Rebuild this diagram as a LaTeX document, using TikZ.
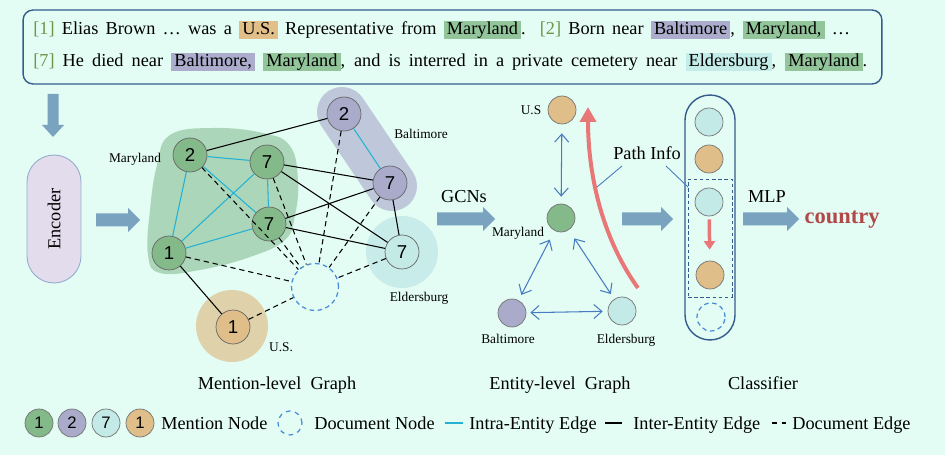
\documentclass[tikz,border=0pt]{standalone}
\usepackage{fontspec}
\setmainfont{Liberation Serif}
\newfontfamily\numfont{Liberation Sans}
\usetikzlibrary{arrows.meta}
\definecolor{bgmint}{RGB}{227,252,244}
\definecolor{boxblue}{RGB}{52,92,140}
\definecolor{arrowblue}{RGB}{122,163,191}
\definecolor{encfill}{RGB}{226,220,236}
\definecolor{encdraw}{RGB}{150,172,205}
\definecolor{mdgreen}{RGB}{132,185,138}
\definecolor{blpurple}{RGB}{170,171,202}
\definecolor{elcyan}{RGB}{196,234,232}
\definecolor{usorange}{RGB}{224,190,138}
\definecolor{hlgreen}{RGB}{146,197,154}
\definecolor{hlpurple}{RGB}{172,173,204}
\definecolor{hlcyan}{RGB}{196,236,232}
\definecolor{hlorange}{RGB}{226,190,136}
\definecolor{blobgreen}{RGB}{172,214,186}
\definecolor{blobpurple}{RGB}{190,200,218}
\definecolor{blobcyan}{RGB}{200,236,234}
\definecolor{blobtan}{RGB}{223,210,170}
\definecolor{intracyan}{RGB}{35,178,210}
\definecolor{docblue}{RGB}{70,140,215}
\definecolor{linkblue}{RGB}{72,124,192}
\definecolor{pathred}{RGB}{232,120,120}
\definecolor{countryred}{RGB}{178,72,72}
\definecolor{refgreen}{RGB}{108,150,72}
\def\hlword#1#2{{\setlength{\fboxsep}{0pt}\colorbox{#1}{\rule[-2.3pt]{0pt}{10.4pt}\hspace{1.8pt}#2\hspace{1.8pt}}}}
\def\harrow(#1,#2)(#3){\fill[arrowblue] (#1,#2-6.5) -- (#3-12,#2-6.5) -- (#3-12,#2-12) -- (#3,#2) -- (#3-12,#2+12) -- (#3-12,#2+6.5) -- (#1,#2+6.5) -- cycle;}
\def\varrow(#1,#2)(#3){\fill[arrowblue] (#1-5.5,#2) -- (#1-5.5,#3-12) -- (#1-11,#3-12) -- (#1,#3) -- (#1+11,#3-12) -- (#1+5.5,#3-12) -- (#1+5.5,#2) -- cycle;}

\begin{document}
\begin{tikzpicture}[x=0.02cm,y=-0.02cm,font=\fontsize{10.4}{12.5}\selectfont,
	mnode/.style={circle,draw=black!60,line width=0.4pt,minimum size=0.68cm,inner sep=0pt,font=\numfont\fontsize{10.6}{12}\selectfont},
	enode/.style={circle,draw=black!55,line width=0.4pt,minimum size=0.56cm,inner sep=0pt},
	lgnode/.style={enode,font=\numfont\fontsize{9.5}{11}\selectfont},
	docnode/.style={circle,draw=docblue,line width=0.7pt,dash pattern=on 2.6pt off 2pt,minimum size=0.94cm,inner sep=0pt},
	intra/.style={draw=intracyan,line width=0.6pt},
	inter/.style={draw=black,line width=0.6pt},
	docedge/.style={draw=black,line width=0.6pt,dash pattern=on 3pt off 2.2pt},
	elink/.style={draw=linkblue,line width=0.6pt,{Straight Barb[length=0.16cm,width=0.28cm]}-{Straight Barb[length=0.16cm,width=0.28cm]}},
	lbl/.style={font=\fontsize{7.6}{9}\selectfont,inner sep=0pt,anchor=base},
	captext/.style={inner sep=0pt,anchor=base}]
			%%%%% START %%%%%
			\useasboundingbox (0,0) rectangle (945,455);
			\fill[bgmint] (0,0) rectangle (945,455);

			% sentences
			\node[draw=boxblue,line width=0.8pt,rounded corners=0.2cm,minimum width=17.18cm,minimum height=1.48cm] (textbox) at (452.5,47) {};
			\node[anchor=base west,inner sep=0pt] (lineone) at (33,35) {\makebox[16.34cm][s]{\textcolor{refgreen}{[1]} Elias Brown … was a \hlword{hlorange}{U.S.} Representative from \hlword{hlgreen}{Maryland}. \textcolor{refgreen}{[2]} Born near \hlword{hlpurple}{Baltimore}, \hlword{hlgreen}{Maryland,} …}};
			\node[anchor=base west,inner sep=0pt] (linetwo) at (33,67) {\makebox[16.68cm][s]{\textcolor{refgreen}{[7]} He died near \hlword{hlpurple}{Baltimore,} \hlword{hlgreen}{Maryland}, and is interred in a private cemetery near \hlword{hlcyan}{Eldersburg}, \hlword{hlgreen}{Maryland}.}};

			% encoder
			\varrow(53,94)(137)
			\node[draw=encdraw,fill=encfill,line width=0.5pt,rounded corners=0.54cm,minimum width=2.56cm,minimum height=1.08cm,rotate=90] (enc) at (54,219) {Encoder};
			\harrow(96,220)(140)

			% mention-level graph
			\fill[blobgreen] plot[smooth cycle,tension=0.7] coordinates {(170,135) (213,128) (263,133) (290,146) (298,180) (295,215) (285,240) (250,257) (200,270) (160,273) (148,255) (150,210) (157,165)};
			\draw[blobpurple,line width=1cm,line cap=round] (342,112) -- (392,186);
			\fill[blobcyan] (402,252) circle (36);
			\fill[blobtan] (232,326) circle (36);

			\node[mnode,fill=mdgreen] (m2) at (190,155) {2};
			\node[mnode,fill=mdgreen] (m7a) at (267,162) {7};
			\node[mnode,fill=mdgreen] (m7b) at (269,224) {7};
			\node[mnode,fill=mdgreen] (m1) at (169,253) {1};
			\node[mnode,fill=usorange] (mus) at (233,327) {1};
			\node[mnode,fill=blpurple] (b2) at (344,114) {2};
			\node[mnode,fill=blpurple] (b7) at (390,183) {7};
			\node[mnode,fill=elcyan] (e7) at (402,252) {7};
			\node[docnode] (mdoc) at (315,287) {};

			\draw[intra] (m2) -- (m7a) (m2) -- (m1) (m2) -- (m7b) (m7a) -- (m7b) (m7a) -- (m1) (m7b) -- (m1) (b2) -- (b7);
			\draw[inter] (m2) -- (b2) (m7a) -- (b7) (m7a) -- (e7) (m7b) -- (b7) (m7b) -- (e7) (b7) -- (e7) (m1) -- (mus);
			\draw[docedge] (m2) -- (mdoc) (m7a) -- (mdoc) (m7b) -- (mdoc) (m1) -- (mdoc) (b2) -- (mdoc) (b7) -- (mdoc) (e7) -- (mdoc) (mus) -- (mdoc);

			\node[lbl] (lmd) at (135,163) {Maryland};
			\node[lbl] (lbal) at (421,139) {Baltimore};
			\node[lbl] (leld) at (419,302) {Eldersburg};
			\node[lbl] (lus) at (281,351) {U.S.};
			\node[captext] (capmen) at (277,389) {Mention-level~~Graph};

			% entity-level graph
			\node[captext] (gcn) at (464,203) {GCNs};
			\harrow(437,219)(495)
			\node[enode,fill=usorange] (eus) at (562,110) {};
			\node[enode,fill=mdgreen] (emd) at (561,218) {};
			\node[enode,fill=blpurple] (ebal) at (512,313) {};
			\node[enode,fill=elcyan] (eeld) at (622,311) {};
			\draw[elink,shorten <=0.18cm,shorten >=0.14cm] (eus) -- (emd);
			\draw[elink,shorten <=0.2cm,shorten >=0.12cm] (emd) -- (ebal);
			\draw[elink,shorten <=0.2cm,shorten >=0.12cm] (emd) -- (eeld);
			\draw[elink,shorten <=0.08cm,shorten >=0.1cm] (ebal) -- (eeld);
			\node[lbl] (leus) at (531,115) {U.S};
			\node[lbl] (lemd) at (518,237) {Maryland};
			\node[lbl] (lebal) at (508,343) {Baltimore};
			\node[lbl] (leeld) at (626,343) {Eldersburg};
			\node[captext] (capent) at (560,389) {Entity-level~~Graph};

			\coordinate (redfrom) at (638,288);
			\coordinate (redto) at (588,107);
			\draw[pathred,line width=0.08cm,-{Triangle[length=0.3cm,width=0.32cm]}] (redfrom) .. controls (600,235) and (588,170) .. (redto);

			% classifier
			\harrow(622,219)(673)
			\node[draw=boxblue,line width=0.8pt,rounded corners=0.5cm,minimum width=1cm,minimum height=4.9cm] (clsbox) at (710,217.5) {};
			\node[draw=boxblue,line width=0.5pt,dash pattern=on 2pt off 1.5pt,minimum width=0.88cm,minimum height=2.36cm] (pathbox) at (710,238) {};
			\node[enode,fill=elcyan] (c1) at (709,122) {};
			\node[enode,fill=usorange] (c2) at (709,159) {};
			\node[enode,fill=elcyan] (c3) at (709,202) {};
			\node[enode,fill=usorange] (c4) at (710,275) {};
			\node[docnode,minimum size=0.56cm] (c5) at (711,317) {};
			\draw[pathred,line width=0.07cm,-{Triangle[length=0.17cm,width=0.22cm]},shorten <=0.06cm,shorten >=0.22cm] (c3) -- (c4);

			\node[captext] (pinfo) at (647,160) {Path Info};
			\coordinate (curvept) at (597,187);
			\coordinate (boxpt) at (688,187);
			\draw[linkblue,line width=0.5pt] ([xshift=-0.5cm,yshift=-0.12cm]pinfo.base) -- (curvept);
			\draw[linkblue,line width=0.5pt] ([xshift=0.38cm,yshift=-0.12cm]pinfo.base) -- (boxpt);
			\node[captext] (capcls) at (763,389) {Classifier};

			\node[captext] (mlp) at (767,203) {MLP};
			\harrow(743,219)(799)
			\node[captext,text=countryred,font=\fontsize{12.8}{14}\selectfont\bfseries] (out) at (842,224) {country};

			% legend
			\node[lgnode,fill=mdgreen] (lg1) at (39,423) {1};
			\node[lgnode,fill=blpurple] (lg2) at (72,423) {2};
			\node[lgnode,fill=elcyan] (lg3) at (106,423) {7};
			\node[lgnode,fill=usorange] (lg4) at (140,423) {1};
			\node[captext,anchor=base west] (lgmen) at (161,429) {Mention Node};
			\node[docnode,minimum size=0.48cm,dash pattern=on 2.6pt off 2.6pt] (lgdoc) at (290,423) {};
			\node[captext,anchor=base west] (lgdocn) at (314,429) {Document Node};
			\draw[intra,line width=0.8pt] (445,423) -- (463,423);
			\node[captext,anchor=base west] (lgintra) at (469,429) {Intra-Entity Edge};
			\draw[inter,line width=0.8pt] (605,423) -- (622,423);
			\node[captext,anchor=base west] (lginter) at (633,429) {Inter-Entity Edge};
			\draw[docedge,line width=0.8pt,dash pattern=on 2.8pt off 2.6pt] (772,423) -- (786,423);
			\node[captext,anchor=base west] (lgdoce) at (792,429) {Document Edge};
			%%%%% END %%%%%
\end{tikzpicture}
\end{document}
